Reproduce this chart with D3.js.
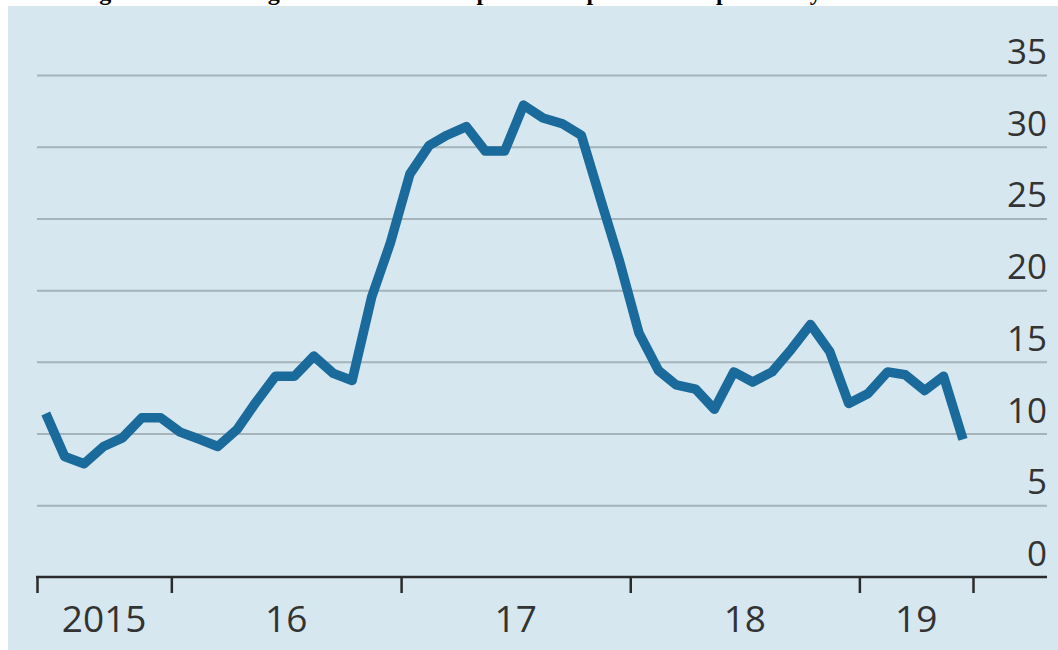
<!DOCTYPE html>
<html>
<head>
<meta charset="utf-8">
<script src="https://cdn.jsdelivr.net/npm/d3@7"></script>
<style>
  html, body { margin: 0; padding: 0; background: #ffffff; }
  svg { display: block; }
</style>
</head>
<body>
<svg id="chart" width="1058" height="650"></svg>
<script>
// ---- data ----
const titleText = "Figure 4: Percentage increase in house prices compared to the previous year.";
const startYear = 2015, startMonth = 5; // June 2015 (0-based month)
const values = [
  11.4, 8.4, 7.9, 9.1, 9.7, 11.1, 11.1, 10.1, 9.6, 9.1,
  10.3, 12.2, 14.0, 14.0, 15.4, 14.2, 13.7, 19.5, 23.3, 28.1,
  30.1, 30.8, 31.4, 29.7, 29.7, 32.9, 32.0, 31.6, 30.8, 26.3,
  22.0, 17.0, 14.4, 13.4, 13.1, 11.7, 14.3, 13.6, 14.3, 15.9,
  17.6, 15.7, 12.1, 12.8, 14.3, 14.1, 13.0, 14.0, 9.6
];
const yTicks = [0, 5, 10, 15, 20, 25, 30, 35];
const xTickDates = [
  new Date(2015, 5, 1), new Date(2016, 0, 1), new Date(2017, 0, 1),
  new Date(2018, 0, 1), new Date(2019, 0, 1), new Date(2019, 6, 1)
];
const xLabels = ["2015", "16", "17", "18", "19"];

const points = values.map((v, i) => ({ date: new Date(startYear, startMonth + i, 15), value: v }));

// ---- layout ----
const svg = d3.select("#chart");
const W = 1058, H = 650;
const plotLeft = 37, plotRight = 1047;

// title (cropped at top)
svg.append("text")
  .attr("x", 78).attr("y", 0)
  .attr("font-family", "'Liberation Serif', 'Times New Roman', serif")
  .attr("font-weight", "bold")
  .attr("font-size", 24)
  .attr("fill", "#000")
  .text(titleText);

// panel background
svg.append("rect")
  .attr("x", 8).attr("y", 6)
  .attr("width", W - 8).attr("height", H - 6)
  .attr("fill", "#d6e7ef");

const x = d3.scaleTime()
  .domain([xTickDates[0], xTickDates[xTickDates.length - 1]])
  .range([37, 973]);
const y = d3.scaleLinear().domain([0, 35]).range([577, 75]);

// gridlines
const grid = svg.append("g").attr("transform", `translate(${plotLeft},0)`)
  .call(d3.axisRight(y).tickValues(yTicks.filter(d => d > 0)).tickSize(plotRight - plotLeft).tickFormat(""));
grid.select(".domain").remove();
grid.selectAll(".tick line").attr("stroke", "#a5b3ba").attr("stroke-width", 2);

// y labels
svg.append("g").selectAll("text").data(yTicks).join("text")
  .attr("x", plotRight)
  .attr("y", d => y(d) - 11)
  .attr("text-anchor", "end")
  .attr("font-family", "'Open Sans', sans-serif")
  .attr("font-size", 35)
  .attr("fill", "#333")
  .text(d => d);

// line
svg.append("path")
  .datum(points)
  .attr("fill", "none")
  .attr("stroke", "#1a6a9b")
  .attr("stroke-width", 9.5)
  .attr("stroke-linejoin", "round")
  .attr("stroke-linecap", "butt")
  .attr("d", d3.line().x(d => x(d.date)).y(d => y(d.value)));

// x axis
const xAxis = svg.append("g").attr("transform", `translate(0,${y(0)})`)
  .call(d3.axisBottom(x).tickValues(xTickDates).tickSize(16).tickFormat(""));
xAxis.select(".domain").remove();
xAxis.selectAll(".tick line").attr("stroke", "#2b2b2b").attr("stroke-width", 2.5);
svg.append("line")
  .attr("x1", plotLeft - 1).attr("x2", plotRight)
  .attr("y1", y(0)).attr("y2", y(0))
  .attr("stroke", "#2b2b2b").attr("stroke-width", 2.5);

// x labels centred between ticks
svg.append("g").selectAll("text").data(xLabels).join("text")
  .attr("x", (d, i) => (x(xTickDates[i]) + x(xTickDates[i + 1])) / 2)
  .attr("y", 632)
  .attr("text-anchor", "middle")
  .attr("font-family", "'Open Sans', sans-serif")
  .attr("font-size", 37)
  .attr("fill", "#333")
  .text(d => d);
</script>
</body>
</html>
